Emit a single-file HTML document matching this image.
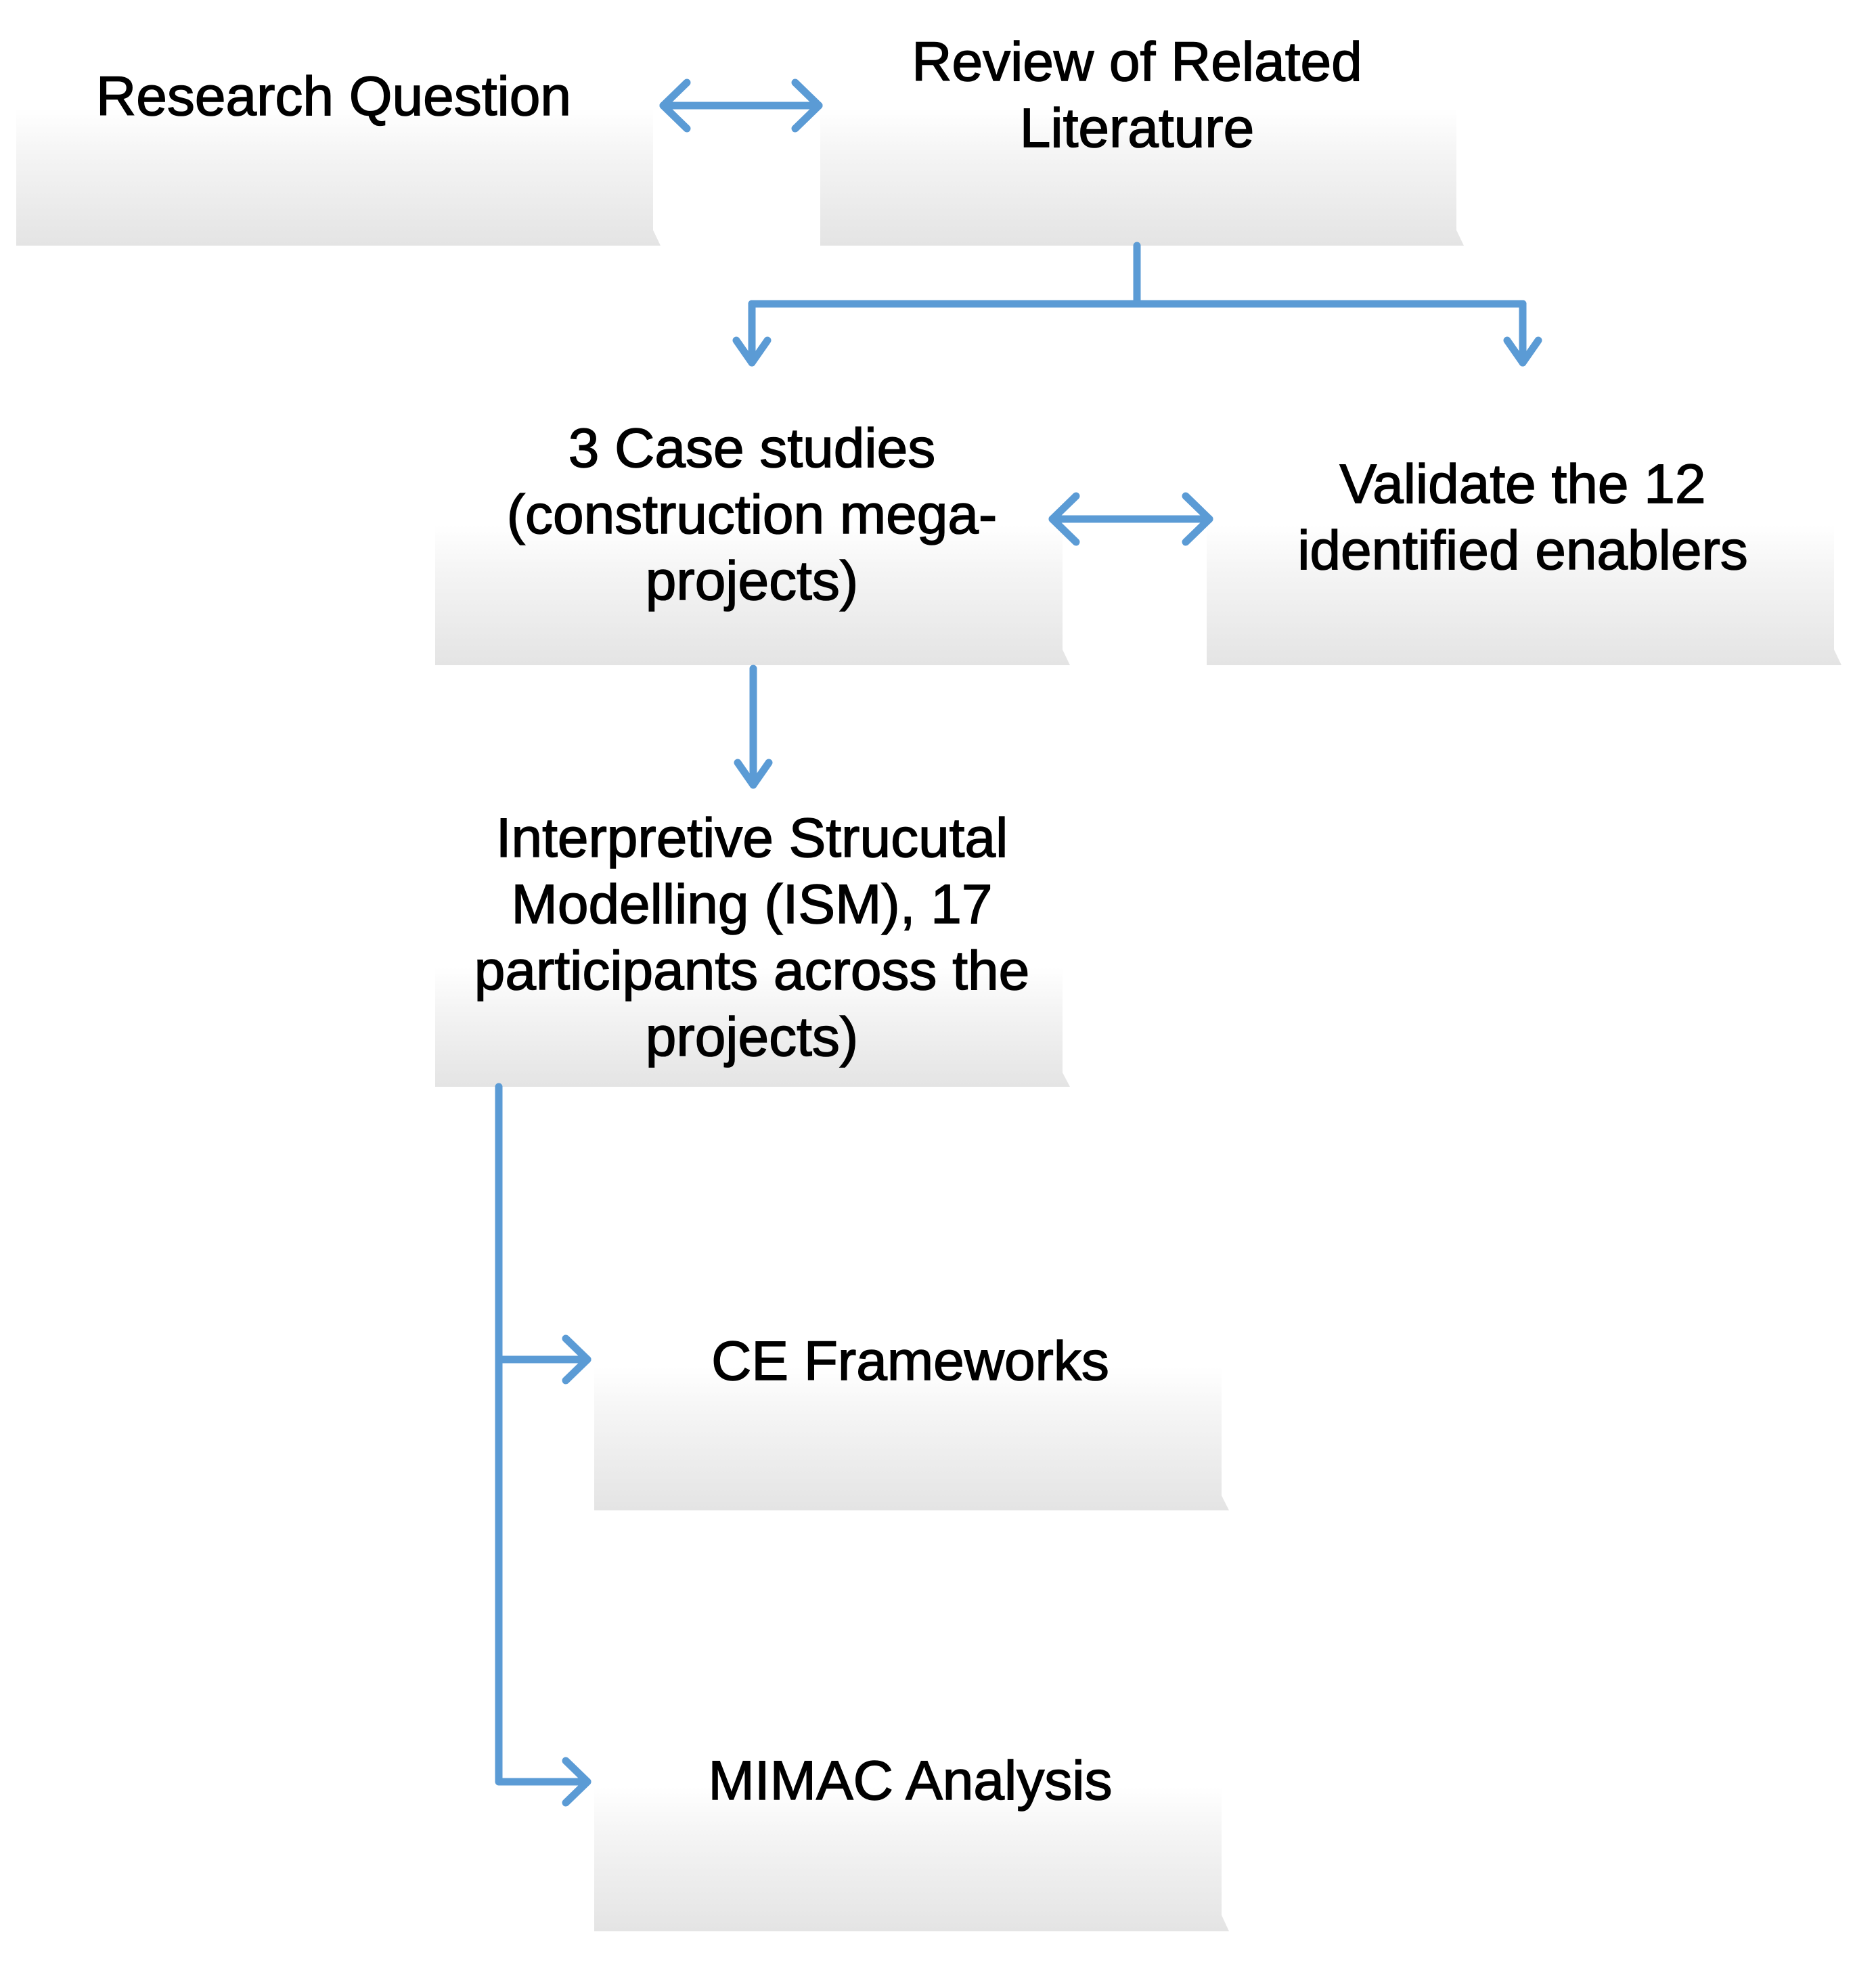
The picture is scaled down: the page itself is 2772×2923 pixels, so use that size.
<!DOCTYPE html>
<html><head><meta charset="utf-8"><style>
html,body{margin:0;padding:0;background:#fff;}
svg{display:block;}
text{font-family:"Liberation Sans",sans-serif;font-size:82px;fill:#000;stroke:#000;stroke-width:1.5px;text-anchor:middle;}
</style></head><body>
<svg width="2772" height="2923" viewBox="0 0 2772 2923" xmlns="http://www.w3.org/2000/svg">
<defs>
<linearGradient id="g" x1="0" y1="0" x2="0" y2="1">
<stop offset="0" stop-color="#ffffff"/>
<stop offset="0.35" stop-color="#f4f4f4"/>
<stop offset="1" stop-color="#e4e4e4"/>
</linearGradient>
</defs>
<g fill="url(#g)">
<path d="M24 160 H965 V340 L976 363 H24 Z"/>
<path d="M1212 160 H2152 V340 L2163 363 H1212 Z"/>
<path d="M643 776 H1570 V960 L1581 983 H643 Z"/>
<path d="M1783 776 H2710 V960 L2721 983 H1783 Z"/>
<path d="M643 1430 H1570 V1585 L1581 1606 H643 Z"/>
<path d="M878 2020 H1805 V2210 L1816 2232 H878 Z"/>
<path d="M878 2640 H1805 V2830 L1816 2854 H878 Z"/>
</g>
<g stroke="#5b9bd5" stroke-width="11" fill="none" stroke-linecap="round" stroke-linejoin="round">
<path d="M980 156 H1210"/>
<path d="M1015 122 L980 156 L1015 190"/>
<path d="M1175 122 L1210 156 L1175 190"/>
<path d="M1680 363 V449"/>
<path d="M1111 449 H2250"/>
<path d="M1111 449 V536"/>
<path d="M2250 449 V536"/>
<path d="M1088 503 L1111 536 L1134 503"/>
<path d="M2227 503 L2250 536 L2273 503"/>
<path d="M1555 767 H1787"/>
<path d="M1590 733 L1555 767 L1590 801"/>
<path d="M1752 733 L1787 767 L1752 801"/>
<path d="M1113 988 V1160"/>
<path d="M1090 1127 L1113 1160 L1136 1127"/>
<path d="M737 1606 V2633 H868"/>
<path d="M737 2009 H868"/>
<path d="M836 1978 L868 2009 L836 2040"/>
<path d="M836 2602 L868 2633 L836 2664"/>
</g>
<text x="493" y="170">Research Question</text>
<text x="1680" y="119">Review of Related</text>
<text x="1680" y="217">Literature</text>
<text x="1111" y="690">3 Case studies</text>
<text x="1111" y="788">(construction mega-</text>
<text x="1111" y="886">projects)</text>
<text x="2250" y="743">Validate the 12</text>
<text x="2250" y="841">identified enablers</text>
<text x="1111" y="1266">Interpretive Strucutal</text>
<text x="1111" y="1364">Modelling (ISM), 17</text>
<text x="1111" y="1462">participants across the</text>
<text x="1111" y="1560">projects)</text>
<text x="1345" y="2039">CE Frameworks</text>
<text x="1345" y="2659">MIMAC Analysis</text>
</svg>
</body></html>
